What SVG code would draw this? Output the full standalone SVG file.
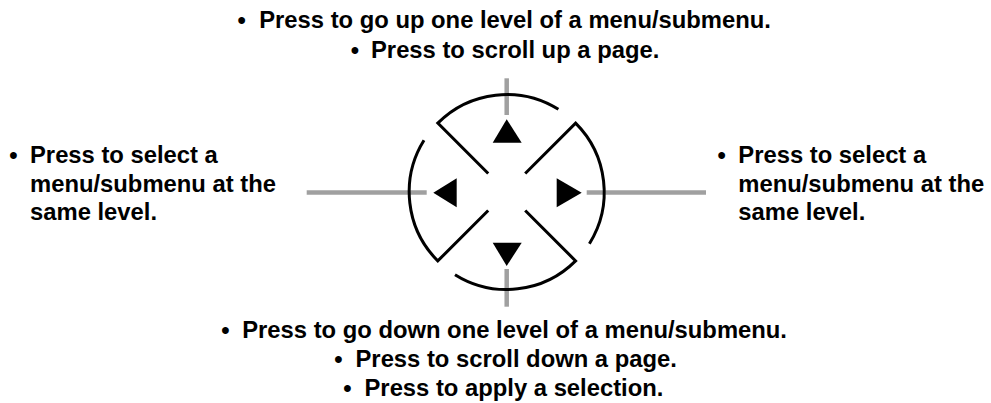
<svg xmlns="http://www.w3.org/2000/svg" width="991" height="403" viewBox="0 0 991 403">
<style>
.t{font-family:"Liberation Sans",Arial,sans-serif;font-weight:bold;font-size:23.8px;fill:#000}
.b{text-anchor:middle}
.ring{fill:none;stroke:#000;stroke-width:3}
.conn{stroke:#a0a0a0;stroke-width:4.5;fill:none}
.tri{fill:#000}
</style>
<rect width="991" height="403" fill="#fff"/>
<g id="connectors">
<line class="conn" x1="506.7" y1="78.3" x2="506.7" y2="115"/>
<line class="conn" x1="506.7" y1="269" x2="506.7" y2="306.7"/>
<line class="conn" x1="306.7" y1="192.5" x2="426.7" y2="192.5"/>
<line class="conn" x1="586.7" y1="192.5" x2="706" y2="192.5"/>
</g>
<g id="dpad">
<path class="ring" d="M488.2 173.5 L437.8 123.1 A97.5 97.5 0 0 1 558.4 109.3"/>
<path class="ring" d="M525.2 173.5 L575.6 123.1 A97.5 97.5 0 0 1 589.4 243.7"/>
<path class="ring" d="M525.2 210.5 L575.6 260.9 A97.5 97.5 0 0 1 455 274.7"/>
<path class="ring" d="M488.2 210.5 L437.8 260.9 A97.5 97.5 0 0 1 424 140.3"/>
<polygon class="tri" points="506.7,119.3 521.7,142.7 492.7,142.7"/>
<polygon class="tri" points="492.7,242.7 521.7,242.7 506.7,266"/>
<polygon class="tri" points="433.3,192.7 456.7,178.3 456.7,207.3"/>
<polygon class="tri" points="581.7,192.7 556.7,178.3 556.7,207.3"/>
</g>
<g id="top-label">
<text class="t"><tspan class="b" x="241.7" y="28">•</tspan><tspan x="259.2" y="28">Press to go up one level of a menu/submenu.</tspan></text>
<text class="t"><tspan class="b" x="355" y="57.5">•</tspan><tspan x="371" y="57.5">Press to scroll up a page.</tspan></text>
</g>
<g id="left-label">
<text class="t"><tspan class="b" x="13.3" y="163.3">•</tspan><tspan x="30" y="163.3">Press to select a</tspan><tspan x="30" y="191.7">menu/submenu at the</tspan><tspan x="30" y="220">same level.</tspan></text>
</g>
<g id="right-label">
<text class="t"><tspan class="b" x="721.7" y="163.3">•</tspan><tspan x="738.3" y="163.3">Press to select a</tspan><tspan x="738.3" y="191.7">menu/submenu at the</tspan><tspan x="738.3" y="220">same level.</tspan></text>
</g>
<g id="bottom-label">
<text class="t"><tspan class="b" x="225.5" y="338.3">•</tspan><tspan x="242.2" y="338.3">Press to go down one level of a menu/submenu.</tspan></text>
<text class="t"><tspan class="b" x="338.3" y="367.3">•</tspan><tspan x="355.5" y="367.3">Press to scroll down a page.</tspan></text>
<text class="t"><tspan class="b" x="347.3" y="396">•</tspan><tspan x="364.5" y="396">Press to apply a selection.</tspan></text>
</g>
</svg>
